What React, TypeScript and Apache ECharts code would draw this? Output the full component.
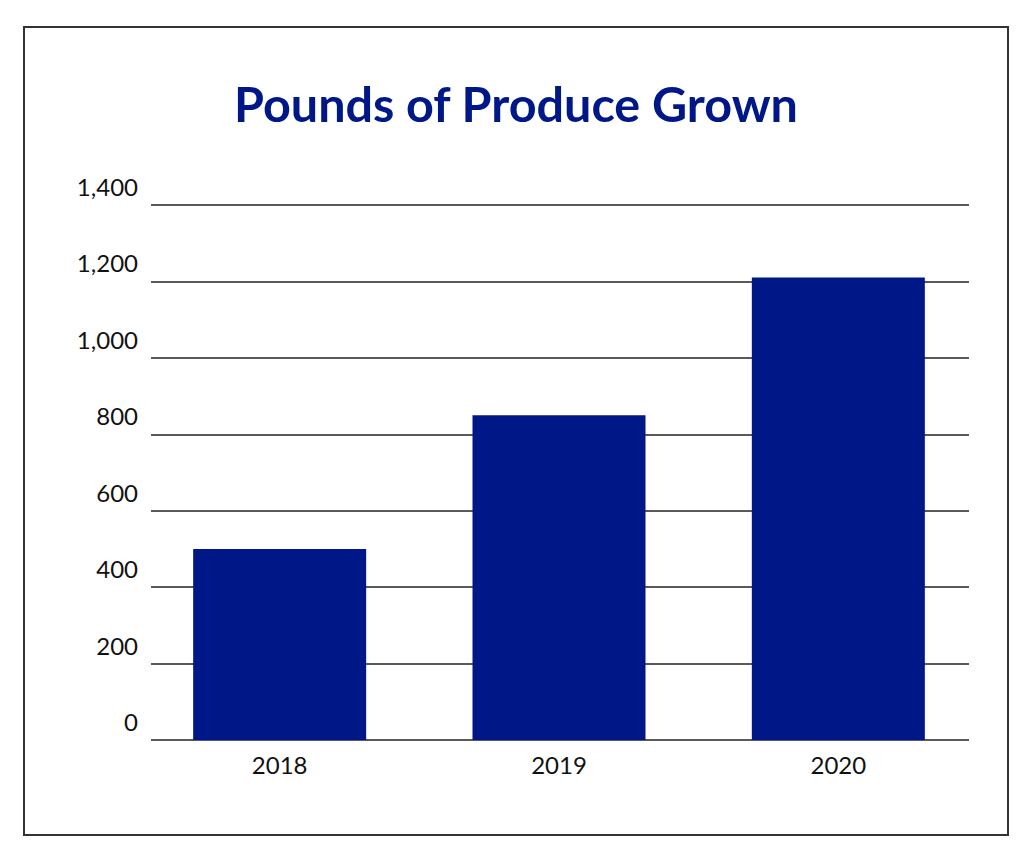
import React, { useEffect, useRef } from "react";
import * as echarts from "echarts";

const categories = ["2018", "2019", "2020"];
const values = [500, 850, 1210];
const yMin = 0;
const yMax = 1400;
const yInterval = 200;
const titleText = "Pounds of Produce Grown";

const FONT = "Lato, 'Open Sans', sans-serif";
const BAR = "#001887";

export default function App() {
  const ref = useRef<HTMLDivElement>(null);
  useEffect(() => {
    if (!ref.current) return;
    const chart = echarts.init(ref.current, undefined, { renderer: "svg" });
    chart.setOption({
      animation: false,
      backgroundColor: "#ffffff",
      graphic: [
        {
          type: "rect",
          shape: { x: 24, y: 27, width: 984, height: 808 },
          style: { fill: "none", stroke: "#333333", lineWidth: 2 },
          z: 0,
        },
        {
          type: "text",
          x: 516,
          y: 103,
          style: {
            text: titleText,
            fill: BAR,
            font: `bold 48.5px ${FONT}`,
            textAlign: "center",
            textVerticalAlign: "middle",
          },
        },
      ],
      grid: [
        { left: 151, right: 55, top: 205, bottom: 122 },
        { left: 140, width: 838, top: 205, bottom: 122 },
      ],
      xAxis: [
        { type: "category", gridIndex: 0, data: categories, show: false },
        {
          type: "category",
          gridIndex: 1,
          data: categories,
          axisLine: { show: false },
          axisTick: { show: false },
          axisLabel: { fontSize: 24, color: "#111111", margin: 12, fontFamily: FONT },
        },
      ],
      yAxis: [
        {
          type: "value",
          gridIndex: 0,
          min: yMin,
          max: yMax,
          interval: yInterval,
          axisLine: { show: false },
          axisTick: { show: false },
          splitLine: { lineStyle: { color: "#222222", width: 1.5 } },
          axisLabel: {
            fontSize: 24,
            color: "#111111",
            fontFamily: FONT,
            margin: 13,
            align: "right",
            verticalAlign: "middle",
            lineHeight: 37,
            showMinLabel: true,
            showMaxLabel: true,
            hideOverlap: false,
            formatter: (v: number) => v.toLocaleString("en-US") + "\n ",
          },
        },
        {
          type: "value",
          gridIndex: 1,
          min: yMin,
          max: yMax,
          interval: yInterval,
          show: false,
          splitLine: { show: false },
        },
      ],
      series: [
        {
          type: "bar",
          xAxisIndex: 1,
          yAxisIndex: 1,
          data: values,
          barWidth: 173,
          itemStyle: { color: BAR },
        },
      ],
    });
    return () => chart.dispose();
  }, []);
  return (
    <div
      ref={ref}
      style={{ position: "absolute", left: 0, top: 0, width: 1024, height: 862 }}
    />
  );
}
